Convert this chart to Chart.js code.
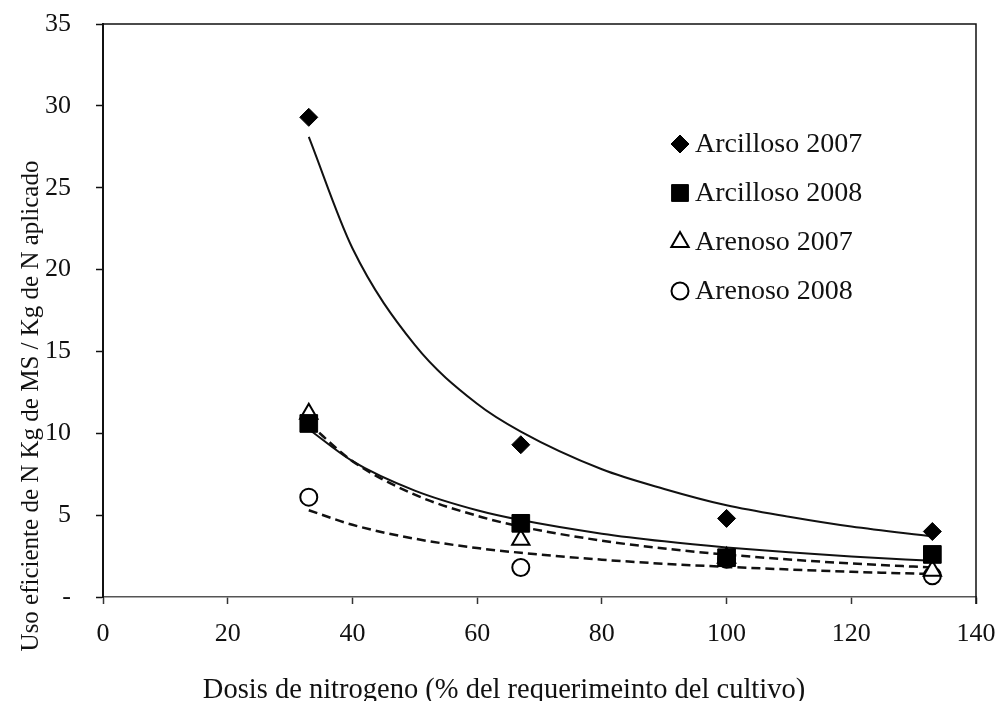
<!DOCTYPE html>
<html><head><meta charset="utf-8">
<script src="https://cdn.jsdelivr.net/npm/chart.js@4/dist/chart.umd.min.js"></script>
<style>html,body{margin:0;padding:0;background:#fff}#wrap{width:1000px;height:701px}</style>
</head><body><div id="wrap"><canvas id="c" width="1000" height="701"></canvas></div>
<script>
const seriesNames = ['Arcilloso 2007', 'Arcilloso 2008', 'Arenoso 2007', 'Arenoso 2008'];
const doses = [33, 67, 100, 133];
const arcilloso2007 = [29.3, 9.3, 4.8, 4.0];
const arcilloso2008 = [10.6, 4.5, 2.4, 2.6];
const arenoso2007 = [11.2, 3.5, 2.4, 1.6];
const arenoso2008 = [6.1, 1.8, 2.3, 1.3];
// trend curves as drawn in the picture, read at these doses
const trendDoses = [33, 40, 50, 60, 67, 80, 90, 100, 110, 120, 133];
const trendArcilloso2007 = [28.1, 21.3, 15.4, 11.8, 10.1, 7.8, 6.6, 5.6, 4.9, 4.3, 3.7];
const trendArcilloso2008 = [10.25, 8.3, 6.5, 5.3, 4.7, 3.87, 3.4, 3.03, 2.73, 2.48, 2.21];
const trendArenoso2007 = [10.6, 8.3, 6.25, 4.96, 4.3, 3.44, 2.96, 2.59, 2.29, 2.05, 1.8];
const trendArenoso2008 = [5.3, 4.41, 3.56, 2.99, 2.7, 2.28, 2.03, 1.84, 1.68, 1.54, 1.4];
const xTicks = [0, 20, 40, 60, 80, 100, 120, 140];
const yTicks = [0, 5, 10, 15, 20, 25, 30, 35];
const xTitle = 'Dosis de nitrogeno (% del requerimeinto del cultivo)';
const yTitle = 'Uso eficiente de N Kg de MS / Kg de N aplicado';

const FONT = '"Liberation Serif", "Times New Roman", serif';
const toPts = (xs, ys) => xs.map((x, i) => ({x: x, y: ys[i]}));

const markerStyles = [
  {pointStyle: 'rectRot', radius: 9, fill: '#000', border: '#000', bw: 1},
  {pointStyle: 'rect', radius: 12.5, fill: '#000', border: '#000', bw: 1},
  {pointStyle: 'triangle', radius: 10, fill: '#fff', border: '#000', bw: 2},
  {pointStyle: 'circle', radius: 8.5, fill: '#fff', border: '#000', bw: 2}
];
const seriesValues = [arcilloso2007, arcilloso2008, arenoso2007, arenoso2008];
const trendValues = [trendArcilloso2007, trendArcilloso2008, trendArenoso2007, trendArenoso2008];

const pointSets = seriesNames.map((n, i) => ({
  type: 'scatter',
  label: n,
  data: toPts(doses, seriesValues[i]),
  pointStyle: markerStyles[i].pointStyle,
  pointRadius: markerStyles[i].radius,
  pointBackgroundColor: markerStyles[i].fill,
  pointBorderColor: markerStyles[i].border,
  pointBorderWidth: markerStyles[i].bw,
  showLine: false,
  order: 1
}));
const trendSets = seriesNames.map((n, i) => ({
  type: 'line',
  label: n + ' (tendencia)',
  data: toPts(trendDoses, trendValues[i]),
  borderColor: '#111',
  borderWidth: i < 2 ? 2 : 2.5,
  borderDash: i < 2 ? [] : [9, 5],
  pointRadius: 0,
  cubicInterpolationMode: 'monotone',
  fill: false,
  order: 2
}));

const decor = {
  id: 'decor',
  afterDraw(chart) {
    const {ctx, chartArea: a} = chart;
    ctx.save();
    // top and right frame
    ctx.strokeStyle = '#111';
    ctx.lineWidth = 1.5;
    ctx.beginPath();
    ctx.moveTo(a.left, a.top);
    ctx.lineTo(a.right, a.top);
    ctx.lineTo(a.right, a.bottom + 7);
    ctx.stroke();
    // legend
    const lx = 680, tx = 695, ly0 = 144, dy = 49;
    ctx.font = '28px ' + FONT;
    ctx.textAlign = 'left';
    ctx.textBaseline = 'middle';
    seriesNames.forEach((n, i) => {
      const m = markerStyles[i];
      const y = ly0 + i * dy;
      ctx.fillStyle = m.fill;
      ctx.strokeStyle = m.border;
      ctx.lineWidth = m.bw;
      Chart.helpers.drawPoint(ctx, {pointStyle: m.pointStyle, radius: m.radius * (i === 1 ? 0.95 : 1), rotation: 0, borderWidth: m.bw}, lx, y);
      ctx.fillStyle = '#111';
      ctx.fillText(n, tx, y + 1);
    });
    // axis titles
    ctx.fillStyle = '#111';
    ctx.font = '28.5px ' + FONT;
    ctx.textAlign = 'center';
    ctx.textBaseline = 'alphabetic';
    ctx.fillText(xTitle, 504, 698);
    ctx.translate(31, 406);
    ctx.rotate(-Math.PI / 2);
    ctx.font = '25px ' + FONT;
    ctx.textBaseline = 'middle';
    ctx.fillText(yTitle, 0, 0);
    ctx.restore();
  }
};

new Chart(document.getElementById('c'), {
  type: 'scatter',
  data: {datasets: pointSets.concat(trendSets)},
  options: {
    responsive: false,
    animation: false,
    layout: {padding: {top: 24, right: 24, left: 0, bottom: 0}},
    plugins: {legend: {display: false}, tooltip: {enabled: false}},
    scales: {
      x: {
        type: 'linear', min: 0, max: 140,
        afterBuildTicks: s => { s.ticks = xTicks.map(v => ({value: v})); },
        afterFit: s => { s.height = 104; s.paddingLeft = 0; s.paddingRight = 0; },
        ticks: {font: {family: FONT, size: 26}, color: '#111', padding: 15},
        grid: {drawOnChartArea: false, drawTicks: true, tickLength: 7, tickColor: '#333', tickWidth: 1.5},
        border: {color: '#555', width: 1.5}
      },
      y: {
        min: 0, max: 35,
        afterBuildTicks: s => { s.ticks = yTicks.map(v => ({value: v})); },
        afterFit: s => { s.width = 103; s.paddingTop = 0; s.paddingBottom = 0; },
        ticks: {font: {family: FONT, size: 26}, color: '#111', padding: 25,
          callback: v => v === 0 ? '-' : String(v)},
        grid: {drawOnChartArea: false, drawTicks: true, tickLength: 7, tickColor: '#111', tickWidth: 1.5},
        border: {color: '#111', width: 2}
      }
    }
  },
  plugins: [decor]
});
</script>
</body></html>
